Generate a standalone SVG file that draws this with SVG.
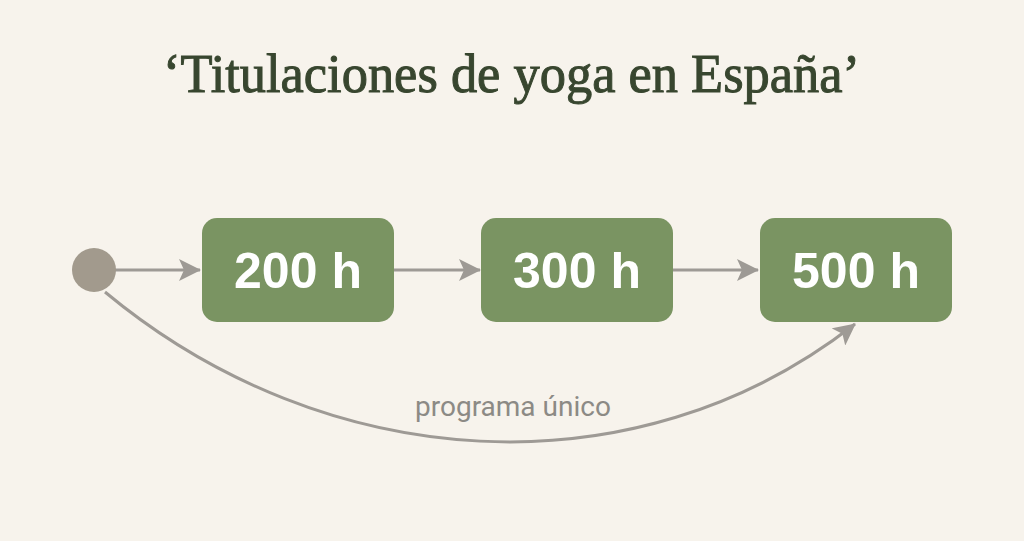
<svg xmlns="http://www.w3.org/2000/svg" width="1024" height="541" viewBox="0 0 1024 541">
  <defs>
    <style>
      .title { font-family: "Liberation Serif", "DejaVu Serif", serif; font-size: 54px; fill: #38462f; stroke: #38462f; stroke-width: 1; }
      .box { fill: #7a9462; }
      .boxlabel { font-family: "Liberation Sans", Arial, sans-serif; font-weight: bold; font-size: 50px; fill: #ffffff; text-anchor: middle; }
      .conn { stroke: #9e9a95; stroke-width: 3; fill: none; }
      .label { font-family: Roboto, "Liberation Sans", sans-serif; font-size: 28px; fill: #8c8a85; }
    </style>
    <marker id="arrow" viewBox="0 0 22 22" refX="21" refY="11" markerWidth="22" markerHeight="22" markerUnits="userSpaceOnUse" orient="auto">
      <path d="M0,0 L22,11 L0,22 L5,11 Z" fill="#9e9a95"/>
    </marker>
  </defs>
  <rect x="0" y="0" width="1024" height="541" fill="#f7f3ec"/>
  <text class="title" x="163" y="92" textLength="697" lengthAdjust="spacingAndGlyphs">‘Titulaciones de yoga en España’</text>

  <g id="connectors">
    <line class="conn" x1="115" y1="270" x2="200" y2="270" marker-end="url(#arrow)"/>
    <line class="conn" x1="394" y1="270" x2="480" y2="270" marker-end="url(#arrow)"/>
    <line class="conn" x1="672" y1="270" x2="758" y2="270" marker-end="url(#arrow)"/>
    <path id="curve" class="conn" d="M105,292 C325,475 635,496 855,324" marker-end="url(#arrow)"/>
    <text class="label" x="415" y="416">programa único</text>
  </g>

  <g id="start">
    <circle cx="94" cy="270" r="22" fill="#a29a8d"/>
  </g>
  <g id="node-200">
    <rect class="box" x="202" y="218" width="192" height="104" rx="15"/>
    <text class="boxlabel" x="298" y="288">200 h</text>
  </g>
  <g id="node-300">
    <rect class="box" x="481" y="218" width="192" height="104" rx="15"/>
    <text class="boxlabel" x="577" y="288">300 h</text>
  </g>
  <g id="node-500">
    <rect class="box" x="760" y="218" width="192" height="104" rx="15"/>
    <text class="boxlabel" x="856" y="288">500 h</text>
  </g>
</svg>
